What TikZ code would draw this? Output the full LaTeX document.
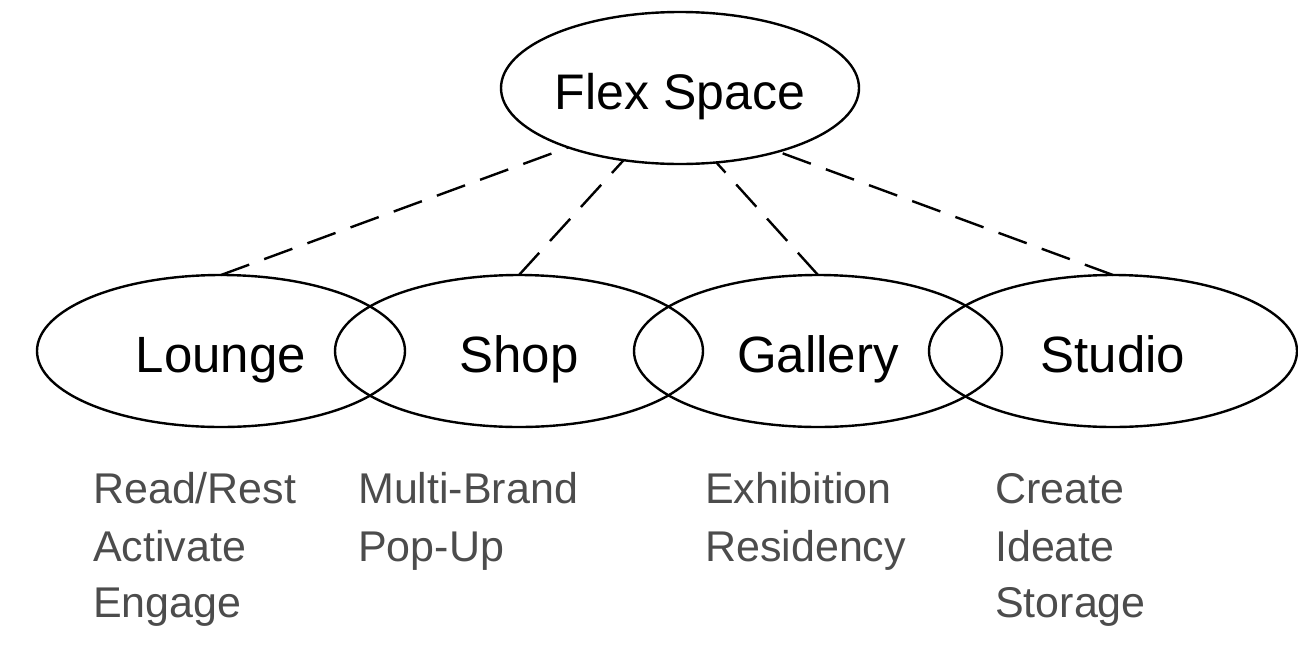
\documentclass[tikz,border=0pt]{standalone}
\usepackage{fontspec}
\setmainfont{Liberation Sans}
\usetikzlibrary{shapes.geometric}
\definecolor{labelgray}{HTML}{4C4C4C}
\begin{document}
\begin{tikzpicture}[x=1pt,y=-1pt,
  space/.style={ellipse, draw, line width=2.4pt, minimum width=368pt, minimum height=152pt,
    inner sep=0pt, outer sep=0pt, font=\fontsize{51}{60}\selectfont, text height=44pt, text depth=2pt},
  link/.style={line width=2.4pt, dash pattern=on 30pt off 16pt},
  use/.style={anchor=base west, inner sep=0pt, text=labelgray, font=\fontsize{43}{57}\selectfont}]
\useasboundingbox (0,0) rectangle (1298,654);
\node[space, minimum width=358pt, font=\fontsize{50}{60}\selectfont] (flex) at (680,88) {Flex Space};
\node[space] (lounge) at (221,351) {Lounge};
\node[space] (shop) at (519,351) {Shop};
\node[space] (gallery) at (818,351) {Gallery};
\node[space] (studio) at (1113,351) {Studio};
\draw[link] (lounge.north) -- (flex.208);
\draw[link] (shop.north) -- (flex.232);
\draw[link] (gallery.north) -- (flex.296.6);
\draw[link] (studio.north) -- (flex.327);
\node[use] (l1) at (93,503) {Read/Rest};
\node[use] (l2) at (93,561) {Activate};
\node[use] (l3) at (93,617) {Engage};
\node[use] (s1) at (358,503) {Multi-Brand};
\node[use] (s2) at (358,561) {Pop-Up};
\node[use] (g1) at (705,503) {Exhibition};
\node[use] (g2) at (705,561) {Residency};
\node[use] (t1) at (995,503) {Create};
\node[use] (t2) at (995,561) {Ideate};
\node[use] (t3) at (995,617) {Storage};
\end{tikzpicture}
\end{document}
